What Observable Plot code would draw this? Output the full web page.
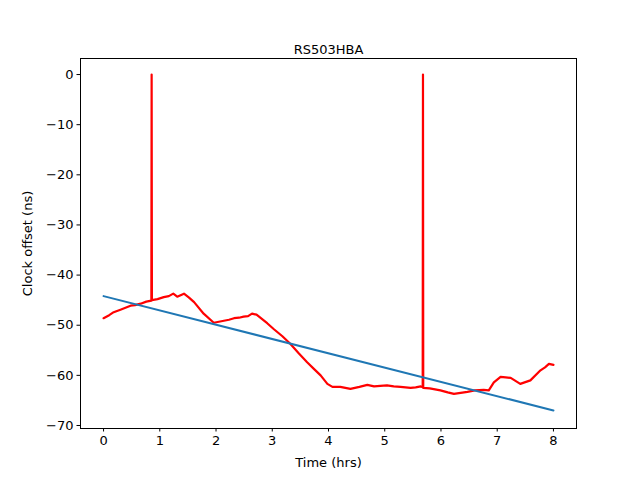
<!DOCTYPE html>
<html>
<head>
<meta charset="utf-8">
<script src="https://cdn.jsdelivr.net/npm/d3@7"></script>
<script src="https://cdn.jsdelivr.net/npm/@observablehq/plot@0.6"></script>
<style>
body { margin: 0; background: #fff; }
</style>
</head>
<body>
<div id="chart"></div>
<script>
const titleText = "RS503HBA";
const xLabel = "Time (hrs)";
const yLabel = "Clock offset (ns)";
const xTicks = [0, 1, 2, 3, 4, 5, 6, 7, 8];
const yTicks = [-70, -60, -50, -40, -30, -20, -10, 0];

// measured clock offset (red)
const measTime = [0, 0.1, 0.18, 0.3, 0.48, 0.56, 0.66, 0.76, 0.85, 0.855, 0.86, 0.96, 1.07, 1.16, 1.24, 1.31, 1.43, 1.52, 1.61, 1.78, 1.96, 2.05, 2.14, 2.23, 2.32, 2.41, 2.49, 2.57, 2.64, 2.72, 2.91, 3.03, 3.18, 3.32, 3.47, 3.62, 3.74, 3.86, 3.98, 4.07, 4.21, 4.39, 4.55, 4.69, 4.81, 4.92, 5.04, 5.16, 5.28, 5.46, 5.55, 5.64, 5.675, 5.68, 5.685, 5.8, 5.99, 6.12, 6.23, 6.35, 6.47, 6.6, 6.76, 6.85, 6.94, 7.06, 7.15, 7.24, 7.41, 7.59, 7.77, 7.85, 7.92, 8.0];
const measOffset = [-48.6, -48.0, -47.4, -46.9, -46.1, -46.0, -45.7, -45.3, -45.1, 0, -45.0, -44.8, -44.4, -44.2, -43.7, -44.3, -43.7, -44.5, -45.4, -47.7, -49.5, -49.3, -49.1, -48.9, -48.6, -48.5, -48.3, -48.2, -47.7, -47.9, -49.6, -50.8, -52.2, -53.7, -55.6, -57.4, -58.7, -60.0, -61.7, -62.3, -62.3, -62.7, -62.3, -61.9, -62.2, -62.1, -62.0, -62.2, -62.3, -62.5, -62.4, -62.2, -62.4, 0, -62.5, -62.6, -63.0, -63.4, -63.7, -63.5, -63.3, -63.0, -62.9, -63.0, -61.4, -60.3, -60.4, -60.5, -61.7, -61.0, -59.0, -58.4, -57.7, -57.9];

// linear fit (blue)
const fitTime = [0, 8];
const fitOffset = [-44.2, -67.0];

const meas = measTime.map((t, i) => ({t, v: measOffset[i]}));
const fit = fitTime.map((t, i) => ({t, v: fitOffset[i]}));

const font = "DejaVu Sans, sans-serif";
const fmt = d => d < 0 ? "\u2212" + Math.abs(d) : String(d);

const chart = Plot.plot({
  width: 640,
  height: 480,
  marginLeft: 80,
  marginRight: 64,
  marginTop: 58,
  marginBottom: 52,
  style: {fontFamily: font, fontSize: "13px", color: "#000", background: "#fff"},
  x: {domain: [-0.41, 8.41]},
  y: {domain: [-70.6, 3.2]},
  marks: [
    Plot.axisX({ticks: xTicks, tickFormat: fmt, tickSize: 3.5, tickPadding: 3.5, fontSize: 13,
      label: xLabel, labelAnchor: "center", labelArrow: "none", labelOffset: 38}),
    Plot.axisY({ticks: yTicks, tickFormat: fmt, tickSize: 3.5, tickPadding: 3.5, fontSize: 13,
      label: yLabel, labelAnchor: "center", labelArrow: "none", labelOffset: 58}),
    Plot.line(meas, {x: "t", y: "v", stroke: "red", strokeWidth: 2.2}),
    Plot.line(fit, {x: "t", y: "v", stroke: "#1f77b4", strokeWidth: 2}),
    Plot.frame({stroke: "#000", strokeWidth: 1}),
    Plot.text([titleText], {frameAnchor: "top", dy: -14, text: d => d, fontSize: 13, fill: "#000"})
  ]
});
document.getElementById("chart").appendChild(chart);
</script>
</body>
</html>
